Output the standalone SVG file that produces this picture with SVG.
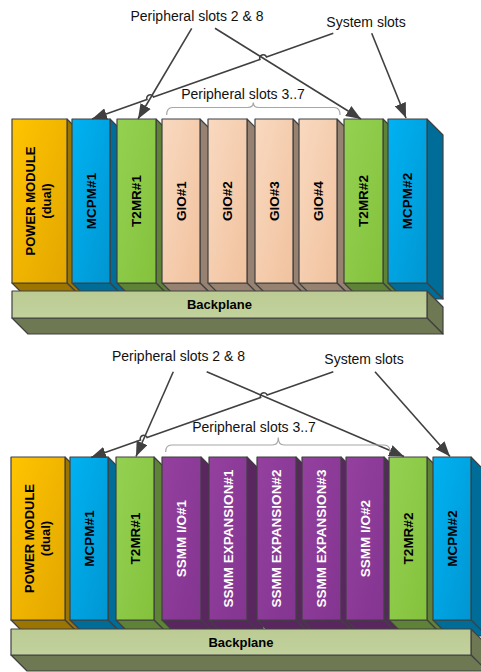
<svg xmlns="http://www.w3.org/2000/svg" width="481" height="672" viewBox="0 0 481 672">
<defs>
<style>
.box polygon,.box rect{stroke:#404040;stroke-width:1.2;stroke-linejoin:round}
.gold .front{fill:url(#gGold)} .gold .side,.gold .bot{fill:#9C7400}
.blue .front{fill:url(#gBlue)} .blue .side,.blue .bot{fill:#006C98}
.green .front{fill:url(#gGreen)} .green .side,.green .bot{fill:#5E8236}
.peach .front{fill:url(#gPeach)} .peach .side,.peach .bot{fill:#978272}
.purple .front{fill:url(#gPurple)} .purple .side,.purple .bot{fill:#5A2660}
.bp .front{fill:url(#gBp)} .bp .side,.bp .bot{fill:#6E7852}
.vt{font-family:"Liberation Sans",Arial,sans-serif;font-weight:bold;font-size:13.5px;text-anchor:middle;fill:#000}
.pw{font-size:13px}
.wt{fill:#fff}
.bt{font-family:"Liberation Sans",Arial,sans-serif;font-weight:bold;font-size:13px;text-anchor:middle;fill:#000}
.lbl{font-family:"Liberation Sans",Arial,sans-serif;font-size:14px;text-anchor:middle;fill:#111}
.conn path{fill:none;stroke:#404040;stroke-width:1.6}
.conn .arr{marker-end:url(#ah)}
.conn .brace{stroke:#A6A6A6;stroke-width:1.2}
</style>
<linearGradient id="gGold" x1="0" y1="0" x2="1" y2="1"><stop offset="0" stop-color="#FFC400"/><stop offset="1" stop-color="#E2A600"/></linearGradient>
<linearGradient id="gBlue" x1="0" y1="0" x2="1" y2="1"><stop offset="0" stop-color="#00B2F2"/><stop offset="1" stop-color="#0096D2"/></linearGradient>
<linearGradient id="gGreen" x1="0" y1="0" x2="1" y2="1"><stop offset="0" stop-color="#94D152"/><stop offset="1" stop-color="#84C23C"/></linearGradient>
<linearGradient id="gPeach" x1="0" y1="0" x2="1" y2="1"><stop offset="0" stop-color="#F9D9C0"/><stop offset="1" stop-color="#F1C29E"/></linearGradient>
<linearGradient id="gPurple" x1="0" y1="0" x2="1" y2="1"><stop offset="0" stop-color="#94409F"/><stop offset="1" stop-color="#833590"/></linearGradient>
<linearGradient id="gBp" x1="0" y1="0" x2="0" y2="1"><stop offset="0" stop-color="#BCCB94"/><stop offset="1" stop-color="#C2D29C"/></linearGradient>
<marker id="ah" markerUnits="userSpaceOnUse" markerWidth="15" markerHeight="12" refX="14" refY="5.5" orient="auto" viewBox="0 0 14 11"><path d="M0,0 L14,5.5 L0,11 z" fill="#404040"/></marker>
</defs>
<rect width="481" height="672" fill="#fff"/>

<!-- TOP DIAGRAM -->
<g id="top-power" class="box gold">
<polygon class="side" points="67,119 83,135 83,299 67,283"/><polygon class="bot" points="12,283 67,283 83,299 28,299"/><rect class="front" x="12" y="119" width="55" height="164"/>
<text class="vt pw" transform="translate(39.5,201) rotate(-90)" y="-4.5">POWER MODULE</text>
<text class="vt pw" transform="translate(39.5,201) rotate(-90)" y="11.5">(dual)</text>
</g>
<g id="top-mcpm1" class="box blue">
<polygon class="side" points="110,119 126,135 126,299 110,283"/><polygon class="bot" points="72,283 110,283 126,299 88,299"/><rect class="front" x="72" y="119" width="38" height="164"/>
<text class="vt" transform="translate(91,201) rotate(-90)" y="4.8">MCPM#1</text>
</g>
<g id="top-t2mr1" class="box green">
<polygon class="side" points="156,119 172,135 172,299 156,283"/><polygon class="bot" points="117,283 156,283 172,299 133,299"/><rect class="front" x="117" y="119" width="39" height="164"/>
<text class="vt" transform="translate(136.5,201) rotate(-90)" y="4.8">T2MR#1</text>
</g>
<g id="top-gio1" class="box peach">
<polygon class="side" points="200,119 216,135 216,299 200,283"/><polygon class="bot" points="162,283 200,283 216,299 178,299"/><rect class="front" x="162" y="119" width="38" height="164"/>
<text class="vt" transform="translate(181,201) rotate(-90)" y="4.8">GIO#1</text>
</g>
<g id="top-gio2" class="box peach">
<polygon class="side" points="247,119 263,135 263,299 247,283"/><polygon class="bot" points="208,283 247,283 263,299 224,299"/><rect class="front" x="208" y="119" width="39" height="164"/>
<text class="vt" transform="translate(227.5,201) rotate(-90)" y="4.8">GIO#2</text>
</g>
<g id="top-gio3" class="box peach">
<polygon class="side" points="293,119 309,135 309,299 293,283"/><polygon class="bot" points="255,283 293,283 309,299 271,299"/><rect class="front" x="255" y="119" width="38" height="164"/>
<text class="vt" transform="translate(274,201) rotate(-90)" y="4.8">GIO#3</text>
</g>
<g id="top-gio4" class="box peach">
<polygon class="side" points="337,119 353,135 353,299 337,283"/><polygon class="bot" points="299,283 337,283 353,299 315,299"/><rect class="front" x="299" y="119" width="38" height="164"/>
<text class="vt" transform="translate(318,201) rotate(-90)" y="4.8">GIO#4</text>
</g>
<g id="top-t2mr2" class="box green">
<polygon class="side" points="383,119 399,135 399,299 383,283"/><polygon class="bot" points="344,283 383,283 399,299 360,299"/><rect class="front" x="344" y="119" width="39" height="164"/>
<text class="vt" transform="translate(363.5,201) rotate(-90)" y="4.8">T2MR#2</text>
</g>
<g id="top-mcpm2" class="box blue">
<polygon class="side" points="427,119 443,135 443,299 427,283"/><polygon class="bot" points="388,283 427,283 443,299 404,299"/><rect class="front" x="388" y="119" width="39" height="164"/>
<text class="vt" transform="translate(407.5,201) rotate(-90)" y="4.8">MCPM#2</text>
</g>
<g id="top-backplane" class="box bp">
<polygon class="side" points="427,291 443,307 443,334 427,318"/><polygon class="bot" points="12,318 427,318 443,334 28,334"/><rect class="front" x="12" y="291" width="415" height="27"/>
<text class="bt" x="219.5" y="309">Backplane</text>
</g>
<g id="top-labels">
<text class="lbl" x="197" y="20.5">Peripheral slots 2 &amp; 8</text>
<text class="lbl" x="366" y="26.5">System slots</text>
<text class="lbl" x="243" y="98.5">Peripheral slots 3..7</text>
</g>

<!-- BOTTOM DIAGRAM -->
<g id="bot-power" class="box gold">
<polygon class="side" points="65,457 81,473 81,636 65,620"/><polygon class="bot" points="11,620 65,620 81,636 27,636"/><rect class="front" x="11" y="457" width="54" height="163"/>
<text class="vt pw" transform="translate(38,538.5) rotate(-90)" y="-4.5">POWER MODULE</text>
<text class="vt pw" transform="translate(38,538.5) rotate(-90)" y="11.5">(dual)</text>
</g>
<g id="bot-mcpm1" class="box blue">
<polygon class="side" points="108,457 124,473 124,636 108,620"/><polygon class="bot" points="70,620 108,620 124,636 86,636"/><rect class="front" x="70" y="457" width="38" height="163"/>
<text class="vt" transform="translate(89,538.5) rotate(-90)" y="4.8">MCPM#1</text>
</g>
<g id="bot-t2mr1" class="box green">
<polygon class="side" points="154,457 170,473 170,636 154,620"/><polygon class="bot" points="116,620 154,620 170,636 132,636"/><rect class="front" x="116" y="457" width="38" height="163"/>
<text class="vt" transform="translate(135,538.5) rotate(-90)" y="4.8">T2MR#1</text>
</g>
<g id="bot-ssmm-io1" class="box purple">
<polygon class="side" points="201,457 217,473 217,636 201,620"/><polygon class="bot" points="162,620 201,620 217,636 178,636"/><rect class="front" x="162" y="457" width="39" height="163"/>
<text class="vt wt" transform="translate(181.5,538.5) rotate(-90)" y="4.8">SSMM I/O#1</text>
</g>
<g id="bot-ssmm-exp1" class="box purple">
<polygon class="side" points="247,457 263,473 263,636 247,620"/><polygon class="bot" points="209,620 247,620 263,636 225,636"/><rect class="front" x="209" y="457" width="38" height="163"/>
<text class="vt wt" transform="translate(228,538.5) rotate(-90)" y="4.8">SSMM EXPANSION#1</text>
</g>
<g id="bot-ssmm-exp2" class="box purple">
<polygon class="side" points="296,457 312,473 312,636 296,620"/><polygon class="bot" points="257,620 296,620 312,636 273,636"/><rect class="front" x="257" y="457" width="39" height="163"/>
<text class="vt wt" transform="translate(276.5,538.5) rotate(-90)" y="4.8">SSMM EXPANSION#2</text>
</g>
<g id="bot-ssmm-exp3" class="box purple">
<polygon class="side" points="341,457 357,473 357,636 341,620"/><polygon class="bot" points="302,620 341,620 357,636 318,636"/><rect class="front" x="302" y="457" width="39" height="163"/>
<text class="vt wt" transform="translate(321.5,538.5) rotate(-90)" y="4.8">SSMM EXPANSION#3</text>
</g>
<g id="bot-ssmm-io2" class="box purple">
<polygon class="side" points="384,457 400,473 400,636 384,620"/><polygon class="bot" points="346,620 384,620 400,636 362,636"/><rect class="front" x="346" y="457" width="38" height="163"/>
<text class="vt wt" transform="translate(365,538.5) rotate(-90)" y="4.8">SSMM I/O#2</text>
</g>
<g id="bot-t2mr2" class="box green">
<polygon class="side" points="427,457 443,473 443,636 427,620"/><polygon class="bot" points="389,620 427,620 443,636 405,636"/><rect class="front" x="389" y="457" width="38" height="163"/>
<text class="vt" transform="translate(408,538.5) rotate(-90)" y="4.8">T2MR#2</text>
</g>
<g id="bot-mcpm2" class="box blue">
<polygon class="side" points="471,457 487,473 487,636 471,620"/><polygon class="bot" points="433,620 471,620 487,636 449,636"/><rect class="front" x="433" y="457" width="38" height="163"/>
<text class="vt" transform="translate(452,538.5) rotate(-90)" y="4.8">MCPM#2</text>
</g>
<g id="bot-backplane" class="box bp">
<polygon class="side" points="471,629 487,645 487,671 471,655"/><polygon class="bot" points="11,655 471,655 487,671 27,671"/><rect class="front" x="11" y="629" width="460" height="26"/>
<text class="bt" x="241" y="646.5">Backplane</text>
</g>
<g id="bot-labels">
<text class="lbl" x="178.5" y="361">Peripheral slots 2 &amp; 8</text>
<text class="lbl" x="364" y="363.5">System slots</text>
<text class="lbl" x="254" y="431.5">Peripheral slots 3..7</text>
</g>

<!-- CONNECTORS -->
<g id="connectors" class="conn">
<path class="arr" d="M191.7,28.3 L138,119"/>
<path class="arr" d="M215,28.3 L361,119"/>
<path class="arr" d="M333.3,33.3 L266.5,57 A3.5,3.5 0 0 0 259.9,59.4 L153.55,97.1 A3.5,3.5 0 0 0 146.95,99.5 L92,119"/>
<path class="arr" d="M371.7,33.3 L406,118"/>
<path class="brace" d="M166.7,115 Q166.7,107.5 172.5,107.5 L247.5,107.5 Q253.3,107.5 253.3,102.5 Q253.3,107.5 259.1,107.5 L334.2,107.5 Q340,107.5 340,115"/>

<path class="arr" d="M173.3,371.7 L136,456.5"/>
<path class="arr" d="M206.7,371.7 L404,456.5"/>
<path class="arr" d="M333.3,371.7 L267.2,395.1 A3.5,3.5 0 0 0 260.6,397.5 L147.1,437.6 A3.5,3.5 0 0 0 140.5,440 L91,457.5"/>
<path class="arr" d="M375,371.7 L450,456.5"/>
<path class="brace" d="M165.7,452 Q165.7,445 171.5,445 L272.5,445 Q278.3,445 278.3,437.5 Q278.3,445 284.1,445 L384.2,445 Q390,445 390,452"/>
</g>
</svg>
